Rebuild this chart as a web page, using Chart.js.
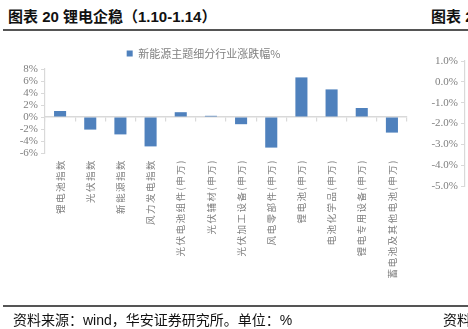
<!DOCTYPE html>
<html><head><meta charset="utf-8">
<script src="https://cdn.jsdelivr.net/npm/chart.js@4"></script>
<style>
html,body{margin:0;padding:0;background:#fff;width:468px;height:329px;overflow:hidden;position:relative;font-family:"Liberation Sans","Noto Sans CJK SC",sans-serif;}
.t{position:absolute;white-space:nowrap;color:#111;}
#title{left:8px;top:6px;font-size:15px;font-weight:bold;line-height:22px;}
#title2{left:431px;top:6px;font-size:15px;font-weight:bold;line-height:22px;}
.rule{position:absolute;left:3px;width:465px;height:1.5px;background:#555;}
#src{left:13px;top:311px;font-size:14px;line-height:18px;}
#src2{left:443px;top:311px;font-size:14px;line-height:18px;}
#main{position:absolute;left:0;top:36px;}
#side{position:absolute;left:418px;top:36px;}
</style>
</head><body>
<div class="t" id="title">图表 20 锂电企稳（1.10-1.14）</div>
<div class="t" id="title2">图表 2</div>
<div class="rule" style="top:29px"></div>
<canvas id="main" width="420" height="270"></canvas>
<canvas id="side" width="100" height="170"></canvas>
<div class="rule" style="top:305px"></div>
<div class="t" id="src">资料来源：wind，华安证券研究所。单位：%</div>
<div class="t" id="src2">资料</div>
<script>
const categories = ["锂电池指数","光伏指数","新能源指数","风力发电指数","光伏电池组件(申万)","光伏辅材(申万)","光伏加工设备(申万)","风电零部件(申万)","锂电池(申万)","电池化学品(申万)","锂电专用设备(申万)","蓄电池及其他电池(申万)"];
const seriesName = "新能源主题细分行业涨跌幅%";
const changes = [1.0, -2.1, -2.9, -4.9, 0.8, 0.2, -1.2, -5.1, 6.6, 4.6, 1.5, -2.6];
const mainAxisMin = -6, mainAxisMax = 8, mainAxisStep = 2;
const sideAxisMin = -5, sideAxisMax = 1, sideAxisStep = 1;

const GRAY = '#808080', LINE = '#d9d9d9', BLUE = '#4f81bd';
const serif = '"Liberation Serif","DejaVu Serif",serif';
const cjk = '"Noto Sans CJK SC","Noto Sans",sans-serif';

const spacingPlugin = {
  id: 'xspacing',
  beforeDraw(chart) {
    const s = chart.scales.x;
    if (s && !s._spaced) {
      const orig = s.drawLabels;
      s.drawLabels = function (ca) {
        const c = this.ctx; c.save(); c.letterSpacing = '1.5px';
        orig.call(this, ca); c.restore();
      };
      s._spaced = true;
    }
  }
};

new Chart(document.getElementById('main'), {
  type: 'bar',
  data: {
    labels: categories,
    datasets: [{ label: seriesName, data: changes, backgroundColor: BLUE, borderWidth: 0,
      barPercentage: 0.4, categoryPercentage: 1.0 }]
  },
  options: {
    responsive: false, animation: false,
    layout: { padding: { top: 12, right: 13, left: 0, bottom: 0 } },
    plugins: {
      legend: { display: true, position: 'top',
        labels: { boxWidth: 6, boxHeight: 6, padding: 0, color: GRAY,
          font: { family: cjk, size: 11 } } },
      tooltip: { enabled: false }
    },
    scales: {
      x: { type: 'category', position: 'bottom',
        grid: { display: false, drawTicks: false }, border: { display: false },
        ticks: { autoSkip: false, minRotation: 90, maxRotation: 90, padding: 6, color: GRAY,
          font: { family: cjk, size: 9.5 } },
        afterFit(s) { s.height = 153; } },
      x0: { type: 'category', position: { y: 0 },
        grid: { drawOnChartArea: false, drawTicks: true, tickLength: 4, color: LINE, lineWidth: 1.2, offset: true },
        border: { display: true, color: LINE, width: 1.5 },
        ticks: { display: false } },
      y: { type: 'linear', min: mainAxisMin, max: mainAxisMax,
        grid: { drawOnChartArea: false, drawTicks: true, tickLength: 4, color: LINE },
        border: { display: true, color: LINE, width: 1.2 },
        ticks: { stepSize: mainAxisStep, autoSkip: false, padding: 3, color: GRAY, font: { family: serif, size: 11 },
          callback: v => v + '%' },
        afterFit(s) { s.width = 45; } }
    }
  },
  plugins: [spacingPlugin]
});

new Chart(document.getElementById('side'), {
  type: 'bar',
  data: { labels: [], datasets: [] },
  options: {
    responsive: false, animation: false,
    layout: { padding: { top: 25, bottom: 20, left: 0, right: 0 } },
    plugins: { legend: { display: false }, tooltip: { enabled: false } },
    scales: {
      x: { display: false },
      y: { type: 'linear', min: sideAxisMin, max: sideAxisMax,
        grid: { drawOnChartArea: false, drawTicks: true, tickLength: 4, color: LINE },
        border: { display: true, color: LINE, width: 1.2 },
        ticks: { stepSize: sideAxisStep, autoSkip: false, padding: 3, color: GRAY, font: { family: serif, size: 11 },
          callback: v => v.toFixed(1) + '%' },
        afterFit(s) { s.width = 47; } }
    }
  }
});
</script>
</body></html>
